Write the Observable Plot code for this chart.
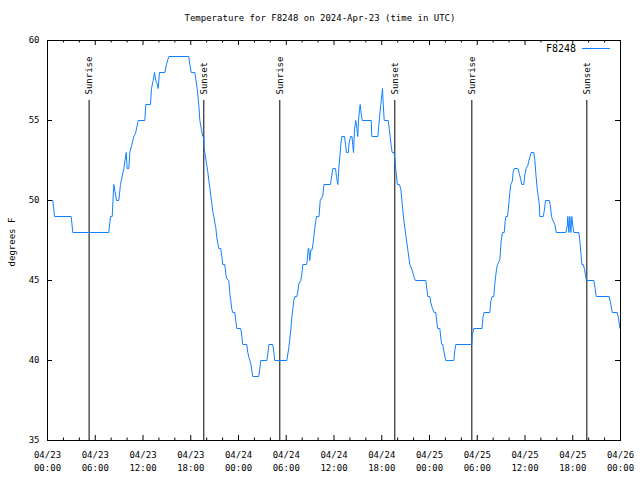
<!DOCTYPE html>
<html><head><meta charset="utf-8">
<script src="https://cdn.jsdelivr.net/npm/d3@7"></script>
<script src="https://cdn.jsdelivr.net/npm/@observablehq/plot@0.6"></script>
<style>
body{margin:0;background:#fff;}
#wrap{position:relative;width:640px;height:480px;font-family:"DejaVu Sans Mono",monospace;font-size:9px;color:#000;}
.t{position:absolute;white-space:pre;line-height:1;}
</style></head><body><div id="wrap"></div>
<script>
const title = "Temperature for F8248 on 2024-Apr-23 (time in UTC)";
const yLabel = "degrees F";
const seriesName = "F8248";
const lineColor = "#1080ff";
const startUTC = Date.UTC(2024, 3, 23);
const endUTC = Date.UTC(2024, 3, 26);
const yTicks = [35, 40, 45, 50, 55, 60];
// hours since 2024-04-23 00:00 UTC, temperature (°F)
const readings = [[0,50],[0.67,50],[0.88,49],[2.98,49],[3.18,48],[7.70,48],[7.92,49],[8.13,49],[8.33,51],[8.67,50],[8.96,50],[9.17,51],[9.59,52],[9.89,53],[10.01,52],[10.22,52],[10.34,53],[10.56,53.4],[10.84,54],[11.06,54.2],[11.40,55],[12.23,55],[12.35,56],[12.94,56],[13.07,57],[13.28,57.5],[13.45,58],[13.61,57.5],[13.78,57.3],[13.91,57],[14.07,58],[14.74,58],[14.95,58.5],[15.12,58.8],[15.24,59],[17.76,59],[17.88,58.5],[18.06,58],[18.51,58],[18.69,57.4],[18.81,57],[19.01,56],[19.14,55],[19.35,54.4],[19.52,54],[19.64,54],[19.68,53.3],[19.77,53],[19.98,52.3],[20.14,51.8],[20.27,51.25],[20.39,50.8],[20.52,50.3],[20.65,49.8],[20.77,49.3],[20.90,49],[21.02,48.6],[21.15,48.3],[21.27,47.7],[21.40,47.3],[21.53,47],[21.78,47],[21.90,46.5],[22.03,46],[22.28,46],[22.41,45.4],[22.53,45.1],[22.78,45],[22.91,44.2],[23.03,43.75],[23.16,43.2],[23.28,43],[23.54,43],[23.66,42.5],[23.79,42],[24.29,42],[24.42,41.5],[24.54,41],[25.04,41],[25.17,40.5],[25.30,40.2],[25.42,40],[25.55,39.8],[25.67,39.4],[25.80,39],[26.55,39],[26.68,39.5],[26.80,40],[27.56,40],[27.68,40.4],[27.81,41],[28.31,41],[28.44,40.5],[28.56,40],[30.07,40],[30.20,40.4],[30.32,40.8],[30.45,41.35],[30.57,41.9],[30.70,42.7],[30.82,43.2],[30.95,43.75],[31.08,44],[31.33,44],[31.45,44.3],[31.58,44.8],[31.83,45],[31.96,45.4],[32.08,46],[32.55,46],[32.63,46.2],[32.76,47],[32.83,47],[32.96,46.25],[33.09,46.9],[33.23,46.9],[33.36,47.3],[33.46,47.7],[33.59,48.3],[33.80,49],[34.12,49],[34.27,50],[34.59,50.3],[34.74,51],[35.56,51],[35.85,52],[36.19,52],[36.31,51.5],[36.48,51],[36.61,52],[36.73,52.7],[36.86,53.5],[36.98,54],[37.32,54],[37.45,53.5],[37.57,53],[37.79,53],[37.91,53.6],[38.08,54],[38.26,54],[38.35,53.5],[38.45,53],[38.58,54.5],[38.74,55],[38.87,54.5],[38.99,54],[39.08,55],[39.21,55.7],[39.29,56],[39.42,55.4],[39.55,55],[40.68,55],[40.75,54],[41.51,54],[41.63,54.7],[41.76,55.4],[41.88,56],[42.01,56.6],[42.10,57],[42.18,56.1],[42.31,55],[42.81,55],[42.94,54.5],[43.06,54],[43.19,53.4],[43.31,53],[43.52,53],[43.64,52.7],[43.77,51.9],[43.97,51],[44.22,51],[44.40,50.7],[44.53,50],[44.78,48.75],[45.03,47.8],[45.28,46.9],[45.53,46],[45.78,45.7],[46.07,45.2],[46.23,45],[47.54,45],[47.66,44.5],[47.79,44],[48.04,44],[48.17,43.6],[48.34,43.3],[48.59,43],[48.79,43],[48.92,42.4],[49.04,42],[49.30,42],[49.42,41.4],[49.55,41],[49.67,41],[49.80,40.6],[49.96,40.2],[50.05,40],[51.06,40],[51.18,40.6],[51.31,41],[53.32,41],[53.38,41.6],[53.57,42],[54.60,42],[54.72,42.7],[54.85,43],[55.58,43],[55.70,43.7],[55.88,44],[56.08,44],[56.21,44.8],[56.30,45.2],[56.42,45.7],[56.55,46],[56.84,46.3],[57.01,47.5],[57.18,48],[57.39,48],[57.51,48.7],[57.59,49],[57.80,49],[57.97,49.8],[58.09,50.5],[58.22,51],[58.40,51.2],[58.52,51.8],[58.65,52],[59.10,52],[59.28,51.7],[59.44,51.35],[59.60,51],[59.85,51],[59.98,51.6],[60.15,52],[60.36,52.2],[60.48,52.5],[60.61,52.7],[60.78,53],[61.11,53],[61.24,52.5],[61.36,51.7],[61.54,50.7],[61.66,50.3],[61.79,49.8],[61.86,49],[62.29,49],[62.44,49.4],[62.58,50],[63.08,50],[63.21,49.6],[63.33,49],[63.46,48.8],[63.75,48.5],[63.92,48],[65.13,48],[65.31,48.4],[65.38,49],[65.51,48],[65.63,49],[65.76,48],[65.88,49],[66.01,48.4],[66.14,48],[66.76,48],[66.89,47.5],[67.01,46.8],[67.14,46],[67.32,46],[67.48,45.7],[67.61,45.3],[67.73,45],[68.65,45],[68.81,44.5],[68.95,44],[70.58,44],[70.75,43.6],[70.96,43],[71.59,43],[71.76,42.6],[71.92,42],[72,42]];
const sunHours = [5.23, 19.64, 29.19, 43.64, 53.32, 67.77];
const sunLabels = ["Sunrise", "Sunset", "Sunrise", "Sunset", "Sunrise", "Sunset"];

const H = 3600e3;
const data = readings.map(([h, t]) => ({date: new Date(startUTC + h * H), temp: t}));
const sun = sunHours.map((h, i) => ({date: new Date(startUTC + h * H), label: sunLabels[i]}));
const yDomain = [yTicks[0], yTicks[yTicks.length - 1]];
const sunTop = yDomain[0] + 0.85 * (yDomain[1] - yDomain[0]);
const majorTicks = d3.utcHour.every(6).range(new Date(startUTC), new Date(endUTC + 1));
const minorTicks = d3.utcHour.every(2).range(new Date(startUTC), new Date(endUTC + 1))
  .filter(d => d.getUTCHours() % 6 !== 0);

const W = 640, HT = 480, mL = 47, mR = 20, mT = 40, mB = 40;
const fw = W - mL - mR, fh = HT - mT - mB;
const font = "DejaVu Sans Mono, monospace";

const chart = Plot.plot({
  width: W, height: HT,
  marginLeft: mL, marginRight: mR, marginTop: mT, marginBottom: mB,
  style: {fontFamily: font, fontSize: "9px", background: "#fff", color: "#000"},
  x: {type: "utc", domain: [new Date(startUTC), new Date(endUTC)]},
  y: {domain: yDomain},
  marks: [
    Plot.ruleX(sun, {x: "date", y1: yDomain[0], y2: sunTop, stroke: "#000", strokeWidth: 1}),
    Plot.text(sun, {x: "date", y: sunTop, text: "label", rotate: -90, textAnchor: "start", dy: -6, fill: "#000"}),
    Plot.line(data, {x: "date", y: "temp", stroke: lineColor, strokeWidth: 1}),
    Plot.tickX(majorTicks, {x: d => d, insetTop: fh - 5, stroke: "#000"}),
    Plot.tickX(majorTicks, {x: d => d, insetBottom: fh - 5, stroke: "#000"}),
    Plot.tickX(minorTicks, {x: d => d, insetTop: fh - 2.5, stroke: "#000"}),
    Plot.tickX(minorTicks, {x: d => d, insetBottom: fh - 2.5, stroke: "#000"}),
    Plot.tickY(yTicks, {y: d => d, insetRight: fw - 5, stroke: "#000"}),
    Plot.tickY(yTicks, {y: d => d, insetLeft: fw - 5, stroke: "#000"}),
    Plot.axisX(majorTicks, {anchor: "bottom", tickSize: 0, tickPadding: 8, label: null,
      tickFormat: d3.utcFormat("%m/%d\n%H:%M"), lineHeight: 1.45}),
    Plot.axisY(yTicks, {anchor: "left", tickSize: 0, tickPadding: 8, label: null}),
    Plot.frame({stroke: "#000", strokeWidth: 1})
  ]
});

const wrap = document.getElementById("wrap");
wrap.appendChild(chart);
chart.style.position = "absolute"; chart.style.left = "0"; chart.style.top = "0";

function addText(txt, css) {
  const d = document.createElement("div");
  d.className = "t"; d.textContent = txt;
  Object.assign(d.style, css);
  wrap.appendChild(d);
  return d;
}
addText(title, {left: "0", width: W + "px", textAlign: "center", top: "14px"});
addText(seriesName, {right: (W - 576) + "px", top: "44px", textAlign: "right", fontSize: "10px"});
const lg = document.createElement("div");
Object.assign(lg.style, {position: "absolute", left: "582px", top: "48px", width: "28px", borderTop: "1px solid " + lineColor});
wrap.appendChild(lg);
addText(yLabel, {left: "12px", top: "242px", transform: "translate(-50%,-50%) rotate(-90deg)"});
</script>
</body></html>
